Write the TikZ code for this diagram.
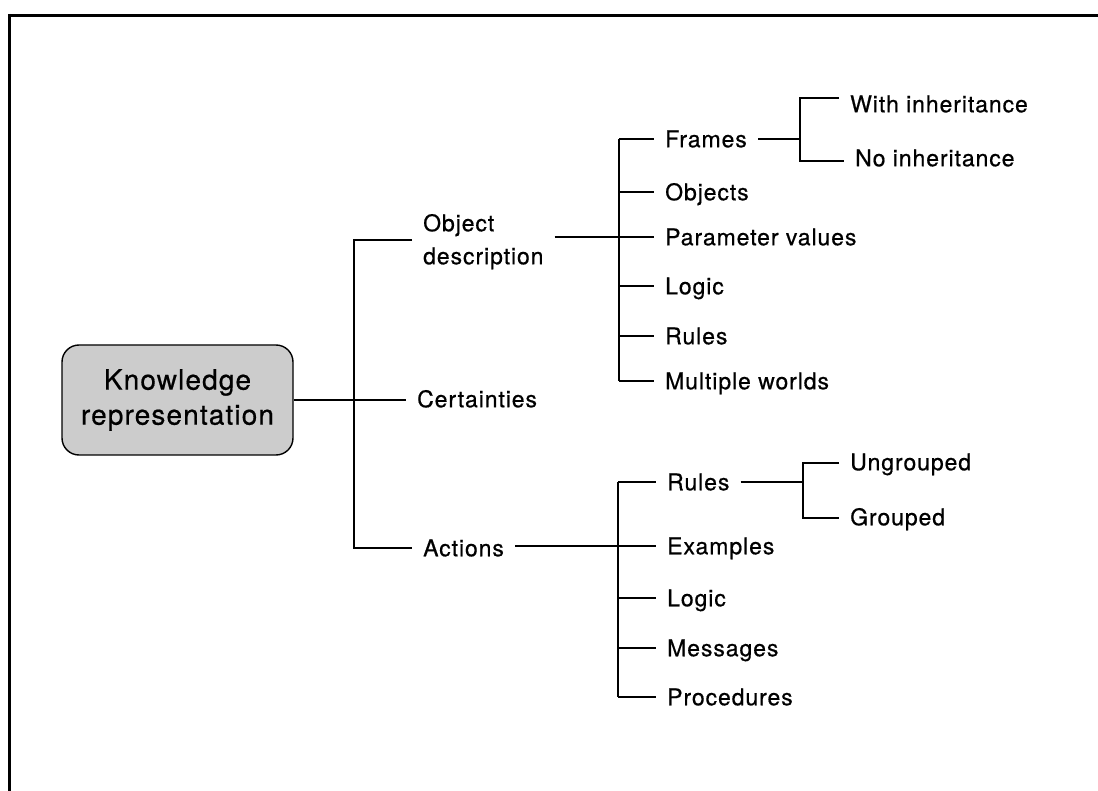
\documentclass[tikz,border=0pt]{standalone}
\usepackage{fontspec}
\setmainfont{TeX Gyre Heros}[LetterSpace=4, FakeBold=0.6]
\begin{document}
\begin{tikzpicture}[x=1pt,y=-1pt,
  conn/.style={line width=1.7pt},
  frame/.style={line width=3.5pt},
  lbl/.style={anchor=west, inner xsep=11pt, inner ysep=0pt,
    font=\fontsize{23}{33}\selectfont, text height=16.5pt, text depth=0pt},
  rootbox/.style={draw, line width=1.4pt, rounded corners=17pt, fill=black!20,
    minimum width=231pt, minimum height=110pt, align=center, inner sep=0pt,
    font=\fontsize{28}{35}\selectfont}
]
\useasboundingbox (0,0) rectangle (1098,791);

% outer frame (top and left edges only)
\draw[frame] (8,15.5) -- (1098,15.5);
\draw[frame] (9.5,14) -- (9.5,791);

% root
\node[rootbox] (root) at (177.5,400) {Knowledge\\representation};

% first level
\node[lbl, align=left] (od) at (412,256) {Object\\description};
\node[lbl] (cert) at (406,399) {Certainties};
\node[lbl] (act) at (412,548) {Actions};

\coordinate (trunkTop) at (354,240);
\coordinate (trunkBot) at (354,548);
\draw[conn] (root.east) -- (root.east -| cert.west);
\draw[conn] (od.west |- trunkTop) -- (trunkTop) -- (trunkBot) -- (act.west);

% object description branch
\node[lbl] (frames) at (654,139) {Frames};
\node[lbl] (objects) at (654,192) {Objects};
\node[lbl] (param) at (654,237) {Parameter values};
\node[lbl] (logicA) at (654,286) {Logic};
\node[lbl] (rulesA) at (654,336) {Rules};
\node[lbl] (multi) at (654,381) {Multiple worlds};

\coordinate (odTop) at (619,139);
\coordinate (odBot) at (619,381);
\draw[conn] (odTop) -- (odBot);
\draw[conn] (od.east |- param.west) -- (param.west);
\foreach \n in {frames,objects,logicA,rulesA,multi}
  \draw[conn] (odTop |- \n.west) -- (\n.west);

% frames branch
\node[lbl] (withinh) at (839,104) {With inheritance};
\node[lbl] (noinh) at (844,158) {No inheritance};
\coordinate (frTop) at (800,98);
\coordinate (frBot) at (800,161);
\draw[conn] (frames.east) -- (frames.east -| frTop);
\draw[conn] (withinh.west |- frTop) -- (frTop) -- (frBot) -- (noinh.west |- frBot);

% actions branch
\node[lbl] (rulesB) at (656,482) {Rules};
\node[lbl] (examples) at (656,546) {Examples};
\node[lbl] (logicB) at (656,598) {Logic};
\node[lbl] (messages) at (656,648) {Messages};
\node[lbl] (proc) at (656,697) {Procedures};

\coordinate (acTop) at (618,482);
\coordinate (acBot) at (618,697);
\draw[conn] (acTop) -- (acBot);
\draw[conn] (act.east |- examples.west) -- (examples.west);
\foreach \n in {rulesB,logicB,messages,proc}
  \draw[conn] (acTop |- \n.west) -- (\n.west);

% rules branch
\node[lbl] (ungrouped) at (839,462) {Ungrouped};
\node[lbl] (grouped) at (839,517) {Grouped};
\coordinate (ruTop) at (803,463);
\coordinate (ruBot) at (803,518);
\draw[conn] (rulesB.east) -- (rulesB.east -| ruTop);
\draw[conn] (ungrouped.west |- ruTop) -- (ruTop) -- (ruBot) -- (grouped.west |- ruBot);
\end{tikzpicture}
\end{document}
